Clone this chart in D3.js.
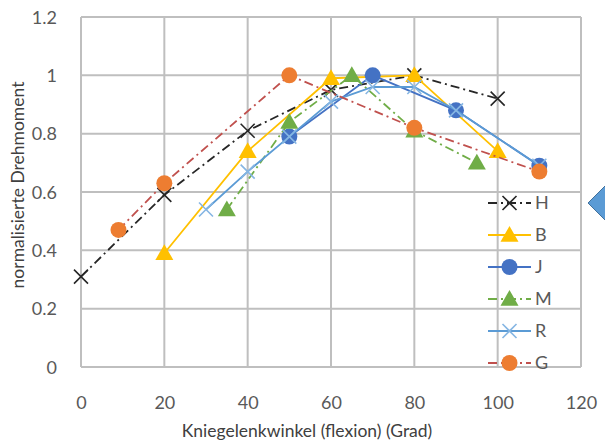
<!DOCTYPE html>
<html><head><meta charset="utf-8">
<script src="https://cdn.jsdelivr.net/npm/d3@7"></script>
<style>body{margin:0;background:#fff}svg{display:block}text{font-family:Lato,"Open Sans",sans-serif;fill:#595959}</style>
</head><body><svg id="c" width="605" height="443"></svg>
<script>
const xTicks = [0,20,40,60,80,100,120];
const yTicks = [0,0.2,0.4,0.6,0.8,1,1.2];
const yTickLabels = ["0","0.2","0.4","0.6","0.8","1","1.2"];
const seriesNames = ["H","B","J","M","R","G"];
const hX = [0,20,40,60,80,100];           const hY = [0.31,0.59,0.81,0.95,1.0,0.92];
const bX = [20,40,60,80,100];             const bY = [0.39,0.74,0.99,1.0,0.74];
const jX = [50,70,90,110];                const jY = [0.79,1.0,0.88,0.69];
const mX = [35,50,65,80,95];              const mY = [0.54,0.84,1.0,0.81,0.70];
const rX = [30,40,50,60,70,80,90,110];    const rY = [0.54,0.67,0.79,0.91,0.96,0.96,0.88,0.69];
const gX = [9,20,50,80,110];              const gY = [0.47,0.63,1.0,0.82,0.67];
const xTitle = "Kniegelenkwinkel (flexion) (Grad)";
const yTitle = "normalisierte Drehmoment";

const styles = {
  H:{line:"#262626",marker:"x",mcol:"#262626",dash:"9,4,2,4"},
  B:{line:"#ffc000",marker:"tri",mcol:"#ffc000",dash:null},
  J:{line:"#4472c4",marker:"circle",mcol:"#4472c4",dash:null},
  M:{line:"#70ad47",marker:"tri",mcol:"#70ad47",dash:"9,4,2,4"},
  R:{line:"#5b9bd5",marker:"x",mcol:"#86b6e3",dash:null},
  G:{line:"#c0504d",marker:"circle",mcol:"#ed7d31",dash:"9,4,2,4"}
};
const data = {H:[hX,hY],B:[bX,bY],J:[jX,jY],M:[mX,mY],R:[rX,rY],G:[gX,gY]};

const svg = d3.select("#c");
const x = d3.scaleLinear().domain([0,120]).range([81,581]);
const y = d3.scaleLinear().domain([0,1.2]).range([367,17]);

// grid
const g = svg.append("g");
g.selectAll("line.v").data(xTicks).join("line")
  .attr("x1",d=>x(d)).attr("x2",d=>x(d)).attr("y1",y(0)).attr("y2",y(1.2))
  .attr("stroke","#bfbfbf").attr("stroke-width",2);
g.selectAll("line.h").data(yTicks).join("line")
  .attr("y1",d=>y(d)).attr("y2",d=>y(d)).attr("x1",x(0)).attr("x2",x(120))
  .attr("stroke","#bfbfbf").attr("stroke-width",2);

// axes
const xAxis = d3.axisBottom(x).tickValues(xTicks).tickSize(0).tickPadding(0);
const xa = svg.append("g").attr("transform",`translate(0,${y(0)})`).call(xAxis);
xa.select(".domain").remove();
xa.selectAll("text").attr("dy",null).attr("y",42).style("font-size","18px").attr("fill","#595959");
const yAxis = d3.axisLeft(y).tickValues(yTicks).tickFormat((d,i)=>yTickLabels[i]).tickSize(0).tickPadding(0);
const ya = svg.append("g").attr("transform",`translate(57,0)`).call(yAxis);
ya.select(".domain").remove();
ya.selectAll("text").attr("dy","0.35em").attr("x",0).style("font-size","18px").attr("fill","#595959");

svg.append("text").attr("x",307).attr("y",437).attr("text-anchor","middle")
  .style("font-size","17.5px").style("fill","#404040").text(xTitle);
svg.append("text").attr("transform","translate(24,185) rotate(-90)").attr("text-anchor","middle")
  .style("font-size","17.5px").style("fill","#404040").text(yTitle);

function marker(sel, type, col, cx, cy){
  if(type==="circle"){
    sel.append("circle").attr("cx",cx).attr("cy",cy).attr("r",8).attr("fill",col);
  } else if(type==="tri"){
    const s=9;
    sel.append("path").attr("d",`M${cx},${cy-s}L${cx+s},${cy+s*0.75}L${cx-s},${cy+s*0.75}Z`).attr("fill",col);
  } else {
    const s=7;
    sel.append("path").attr("d",`M${cx-s},${cy-s}L${cx+s},${cy+s}M${cx-s},${cy+s}L${cx+s},${cy-s}`)
      .attr("stroke",col).attr("stroke-width",1.6).attr("fill","none");
  }
}

const line = d3.line().x(d=>x(d[0])).y(d=>y(d[1]));
seriesNames.forEach(name=>{
  const st = styles[name];
  const pts = data[name][0].map((v,i)=>[v,data[name][1][i]]);
  const sg = svg.append("g");
  sg.append("path").attr("d",line(pts)).attr("fill","none").attr("stroke",st.line)
    .attr("stroke-width",1.8).attr("stroke-dasharray",st.dash);
  pts.forEach(p=>marker(sg, st.marker, st.mcol, x(p[0]), y(p[1])));
});

// legend
const legY = d3.scalePoint().domain(seriesNames).range([203,363]);
seriesNames.forEach(name=>{
  const st = styles[name];
  const ly = legY(name);
  const lg = svg.append("g");
  lg.append("line").attr("x1",488).attr("x2",531).attr("y1",ly).attr("y2",ly)
    .attr("stroke",st.line).attr("stroke-width",1.8).attr("stroke-dasharray",st.dash);
  marker(lg, st.marker, st.mcol, 509.5, ly);
  lg.append("text").attr("x",535).attr("y",ly).attr("dy","0.36em").style("font-size","18px").text(name);
});

// decorative diamond at right edge
svg.append("path").attr("d","M588,203L618,173L648,203L618,233Z")
  .attr("fill","#5b9bd5").attr("stroke","#41719c").attr("stroke-width",1);
</script></body></html>
